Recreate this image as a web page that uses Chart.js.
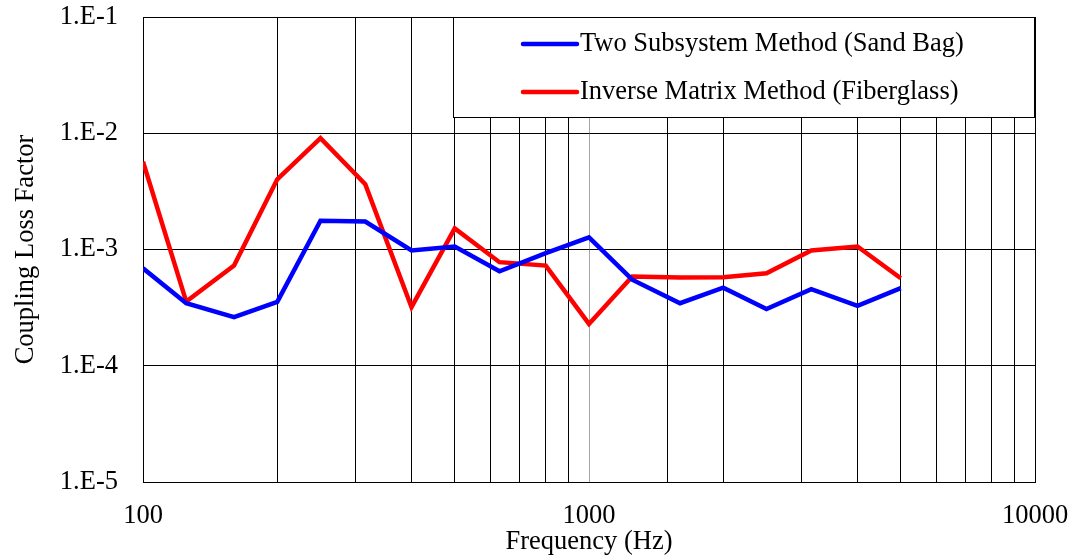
<!DOCTYPE html>
<html>
<head>
<meta charset="utf-8">
<script src="https://cdn.jsdelivr.net/npm/chart.js@4.4.1/dist/chart.umd.min.js"></script>
<style>
  html, body { margin: 0; padding: 0; background: #fff; }
  #wrap { width: 1085px; height: 558px; }
</style>
</head>
<body>
<div id="wrap"><canvas id="clf-chart"></canvas></div>
<script>
// 1/3 octave band centre frequencies (Hz)
const frequencias = [100, 125, 160, 200, 250, 315, 400, 500, 630, 800, 1000, 1250, 1600, 2000, 2500, 3150, 4000, 5000];

// Coupling loss factor per band
const twoSubsystem = [6.9e-4, 3.45e-4, 2.62e-4, 3.54e-4, 1.77e-3, 1.74e-3, 9.8e-4, 1.06e-3, 6.5e-4, 9.3e-4, 1.27e-3, 5.5e-4, 3.45e-4, 4.7e-4, 3.07e-4, 4.55e-4, 3.27e-4, 4.65e-4];
const inverseMatrix = [5.7e-3, 3.56e-4, 7.27e-4, 4.02e-3, 9.06e-3, 3.64e-3, 3.19e-4, 1.52e-3, 7.78e-4, 7.27e-4, 2.29e-4, 5.85e-4, 5.74e-4, 5.78e-4, 6.25e-4, 9.8e-4, 1.06e-3, 5.66e-4];

const seriesLabels = ["Two Subsystem Method (Sand Bag)", "Inverse Matrix Method (Fiberglass)"];

// Ticks
const yTicks = [1e-5, 1e-4, 1e-3, 1e-2, 1e-1];
const yTickLabels = ["1.E-5", "1.E-4", "1.E-3", "1.E-2", "1.E-1"];
const xTickLabels = { 100: "100", 1000: "1000", 10000: "10000" };

const fonte = "'Liberation Serif', 'Times New Roman', serif";
const tamanho = 26.5;

// Legenda desenhada dentro da area do grafico, com fundo branco e borda
const boxLegend = {
  id: "boxLegend",
  afterDraw(chart) {
    const { ctx, chartArea } = chart;
    const x0 = 453, y0 = chartArea.top, x1 = chartArea.right, y1 = 117;
    ctx.save();
    ctx.fillStyle = "#fff";
    ctx.fillRect(x0, y0, x1 - x0, y1 - y0);
    ctx.strokeStyle = "#000";
    ctx.lineWidth = 1;
    ctx.strokeRect(x0 + 0.5, y0 + 0.5, x1 - x0 - 1, y1 - y0);
    const rows = [44, 92];
    chart.data.datasets.forEach((ds, i) => {
      const y = rows[i];
      ctx.strokeStyle = ds.borderColor;
      ctx.lineWidth = 4.5;
      ctx.lineCap = "round";
      ctx.beginPath();
      ctx.moveTo(523, y);
      ctx.lineTo(577, y);
      ctx.stroke();
      ctx.fillStyle = "#000";
      ctx.font = tamanho + "px " + fonte;
      ctx.textBaseline = "middle";
      ctx.textAlign = "left";
      ctx.fillText(ds.label, 580, y);
    });
    ctx.restore();
  },
};

const ctx = document.getElementById("clf-chart").getContext("2d");

new Chart(ctx, {
  type: "line",
  data: {
    labels: frequencias,
    datasets: [
      {
        label: seriesLabels[0],
        data: frequencias.map((f, i) => ({ x: f, y: twoSubsystem[i] })),
        borderColor: "#0000ff",
        borderWidth: 4.5,
        pointRadius: 0,
        tension: 0,
        fill: false,
      },
      {
        label: seriesLabels[1],
        data: frequencias.map((f, i) => ({ x: f, y: inverseMatrix[i] })),
        borderColor: "#ff0000",
        borderWidth: 4.5,
        pointRadius: 0,
        tension: 0,
        fill: false,
      },
    ],
  },
  options: {
    responsive: true,
    maintainAspectRatio: false,
    animation: false,
    layout: {
      padding: { top: 17, right: 50, left: 0, bottom: 0 },
    },
    plugins: {
      legend: { display: false },
      tooltip: { enabled: false },
    },
    scales: {
      x: {
        type: "logarithmic",
        min: 100,
        max: 10000,
        afterFit: (scale) => {
          scale.height = 76;
          scale.paddingLeft = 0;
          scale.paddingRight = 0;
        },
        border: { color: "#000", width: 1 },
        grid: {
          drawTicks: false,
          lineWidth: 1,
          color: (c) => (c.tick && c.tick.value === 1000 ? "#a6a6a6" : "#000"),
        },
        ticks: {
          autoSkip: false,
          maxRotation: 0,
          padding: 18,
          color: "#000",
          font: { size: tamanho, family: fonte },
          callback: (v) => xTickLabels[v] || "",
        },
        title: {
          display: true,
          text: "Frequency (Hz)",
          color: "#000",
          padding: { top: 0, bottom: 0 },
          font: { size: tamanho, family: fonte },
        },
      },
      y: {
        type: "logarithmic",
        min: 1e-5,
        max: 1e-1,
        afterFit: (scale) => {
          scale.width = 143;
          scale.paddingTop = 0;
          scale.paddingBottom = 0;
        },
        afterBuildTicks: (scale) => {
          scale.ticks = yTicks.map((v) => ({ value: v }));
        },
        border: { color: "#000", width: 1 },
        grid: {
          drawTicks: false,
          lineWidth: 1,
          color: "#000",
        },
        ticks: {
          padding: 25,
          color: "#000",
          font: { size: tamanho, family: fonte },
          callback: (v) => yTickLabels[yTicks.indexOf(v)] ?? "",
        },
        title: {
          display: true,
          text: "Coupling Loss Factor",
          color: "#000",
          padding: { top: 10, bottom: 0 },
          font: { size: tamanho, family: fonte },
        },
      },
    },
  },
  plugins: [boxLegend],
});
</script>
</body>
</html>
